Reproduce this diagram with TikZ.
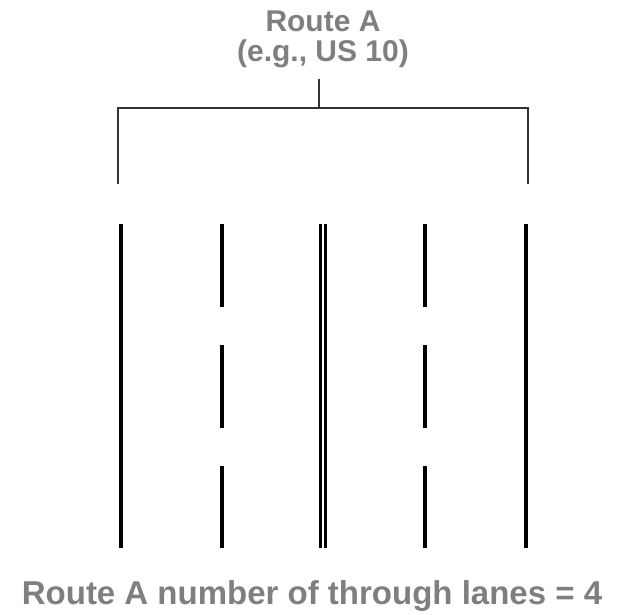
\documentclass[tikz,border=0pt]{standalone}
\usepackage{fontspec}
\setmainfont{Liberation Sans}
\usepackage{xcolor}
\usetikzlibrary{positioning}

\definecolor{labelgray}{HTML}{7F7F7F}
\definecolor{bracketgray}{HTML}{333333}

\begin{document}
\begin{tikzpicture}[x=1pt, y=-1pt,
    lane/.style={line width=3.2pt, black},
    lanedash/.style={lane, dash pattern=on 83pt off 38pt},
    bracket/.style={line width=1.2pt, bracketgray},
    label/.style={font=\bfseries, labelgray, inner sep=0pt, align=center}]

\useasboundingbox (0,0) rectangle (621,614);

% ── Route label and bracket ───────────────────────────────────────
\node[label, font=\bfseries\fontsize{30}{30}\selectfont, anchor=north]
    (route) at (323, 11) {Route A\\(e.g., US 10)};

\coordinate (stemtop) at (319, 79);
\coordinate (stembot) at (319, 108);
\coordinate (brL) at (118, 184);
\coordinate (brR) at (528, 184);

\draw[bracket] (stemtop) -- (stembot);
\draw[bracket] (brL) |- (stembot) -| (brR);

% ── Lane lines ────────────────────────────────────────────────────
\foreach \x/\n in {121/edgeL, 526/edgeR, 320.5/medL, 325.5/medR} {
    \coordinate (\n top) at (\x, 224);
    \coordinate (\n bot) at (\x, 548);
    \draw[lane] (\n top) -- (\n bot);
}
\foreach \x/\n in {222/dashL, 425/dashR} {
    \coordinate (\n top) at (\x, 224);
    \coordinate (\n bot) at (\x, 548);
    \draw[lanedash] (\n top) -- (\n bot);
}

% ── Lane count ────────────────────────────────────────────────────
\node[label, font=\bfseries\fontsize{33}{35}\selectfont, anchor=base]
    (count) at (312, 604) {Route A number of through lanes = 4};

\end{tikzpicture}
\end{document}
